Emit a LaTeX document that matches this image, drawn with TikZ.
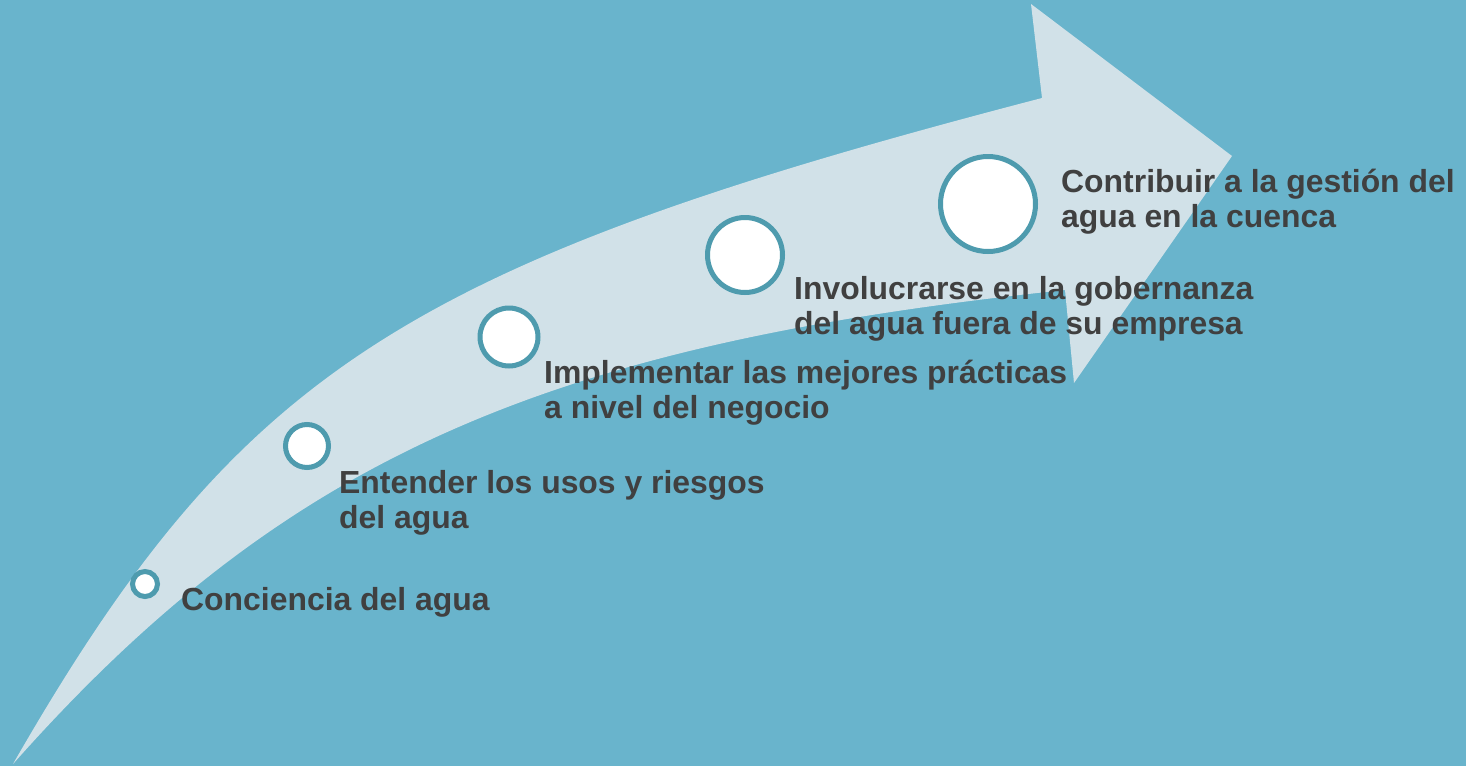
\documentclass[tikz,border=0pt]{standalone}
\usepackage{fontspec}
\setmainfont{Liberation Sans}
\definecolor{bgblue}{HTML}{69B4CC}
\definecolor{arrowfill}{HTML}{D1E1E8}
\definecolor{ringcol}{HTML}{4E9BAE}
\definecolor{txtcol}{HTML}{404040}
\begin{document}
\begin{tikzpicture}[x=1pt,y=-1pt,
  stepdot/.style={circle, draw=ringcol, fill=white, line width=5pt, inner sep=0pt},
  steplabel/.style={anchor=base west, inner sep=0pt, align=left, text=txtcol,
    font=\fontsize{31.9}{35}\selectfont\bfseries}]
\useasboundingbox (0,0) rectangle (1466,766);
\fill[bgblue] (0,0) rectangle (1466,766);
% big curved arrow
\fill[arrowfill]
  (13,764) .. controls (239,371) and (404,264) .. (1042,98)
  -- (1031,4) -- (1232,156) -- (1074,383) -- (1065,290)
  .. controls (550,344) and (287,455) .. (13,764)
  -- cycle;
% circles
\node[stepdot, minimum size=25pt] (c1) at (145,584) {};
\node[stepdot, minimum size=43pt] (c2) at (307,446) {};
\node[stepdot, minimum size=58pt] (c3) at (509,337) {};
\node[stepdot, minimum size=75pt] (c4) at (745,255) {};
\node[stepdot, minimum size=95pt] (c5) at (988,204) {};
% labels (base anchor = baseline of last line)
\node[steplabel] (t1) at (181,610) {Conciencia del agua};
\node[steplabel] (t2) at (339,528) {Entender los usos y riesgos\\del agua};
\node[steplabel] (t3) at (544,418) {Implementar las mejores prácticas\\a nivel del negocio};
\node[steplabel] (t4) at (794,334) {Involucrarse en la gobernanza\\del agua fuera de su empresa};
\node[steplabel] (t5) at (1061,227) {Contribuir a la gestión del\\agua en la cuenca};
\end{tikzpicture}
\end{document}
